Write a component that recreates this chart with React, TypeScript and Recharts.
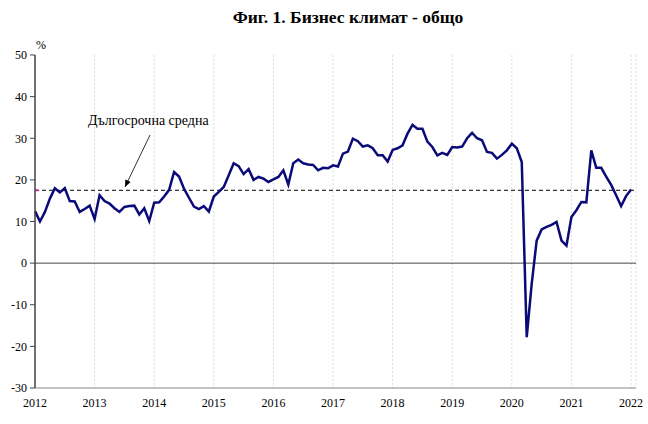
import {
  CartesianGrid,
  Line,
  LineChart,
  ReferenceLine,
  XAxis,
  YAxis,
} from "recharts";

// monthly values, Jan 2012 .. Jan 2022
const START_YEAR = 2012;
const climate = [
  12.5, 10, 12.3, 15.5, 18, 17, 18, 14.9, 14.8, 12.3, 13, 13.8,
  10.6, 16.3, 14.9, 14.3, 13.2, 12.3, 13.5, 13.7, 13.8, 11.7, 13.2, 10.1,
  14.5, 14.6, 16, 17.6, 21.9, 20.8, 17.9, 15.7, 13.6, 13, 13.7, 12.4,
  16, 17.1, 18.3, 21.1, 24, 23.3, 21.4, 22.6, 20, 20.7, 20.3, 19.5,
  20.1, 20.7, 22.3, 18.9, 24, 24.9, 24, 23.7, 23.6, 22.3, 22.9, 22.8,
  23.5, 23.2, 26.3, 26.8, 29.9, 29.3, 28, 28.3, 27.6, 25.9, 25.9, 24.4,
  27.2, 27.6, 28.3, 31.1, 33.2, 32.3, 32.3, 29.2, 27.9, 25.9, 26.5, 26,
  27.9, 27.8, 28, 30, 31.3, 30, 29.5, 26.7, 26.5, 25.1, 26, 27.1,
  28.7, 27.6, 24.3, -17.8, -5, 5.4, 8.1, 8.7, 9.2, 9.9, 5.4, 4.2,
  11.1, 12.7, 14.7, 14.6, 27.1, 22.9, 22.9, 20.8, 18.8, 16.3, 13.7, 16.1,
  17.7,
];
const longTermAvg = 17.5;
const yTicks = [-30, -20, -10, 0, 10, 20, 30, 40, 50];
const xTicks = [0, 12, 24, 36, 48, 60, 72, 84, 96, 108, 120];

const data = climate.map((v, i) => ({ m: i, v }));

const FONT = '"Liberation Serif", "Times New Roman", serif';

export default function App() {
  return (
    <div style={{ position: "absolute", left: 0, top: 0, width: 648, height: 424, background: "#fff", fontFamily: FONT }}>
      <LineChart width={648} height={424} data={data} margin={{ top: 55, right: 12, left: 0, bottom: 6 }}>
        <CartesianGrid horizontal={false} strokeDasharray="2 2" stroke="#dcdcdc" />
        <XAxis
          type="number"
          dataKey="m"
          domain={[0, 121]}
          ticks={xTicks}
          tickFormatter={(v) => String(START_YEAR + v / 12)}
          tickLine={false}
          tickMargin={4}
          axisLine={{ stroke: "#888" }}
          tick={{ fontSize: 12, fill: "#000", fontFamily: FONT }}
          height={30}
        />
        <YAxis
          yAxisId="l"
          domain={[-30, 50]}
          ticks={yTicks}
          width={35}
          tickSize={5}
          tickMargin={3}
          axisLine={{ stroke: "#444", strokeWidth: 1.5 }}
          tickLine={{ stroke: "#444" }}
          tick={{ fontSize: 12, fill: "#000", fontFamily: FONT }}
          interval={0}
        />
        <YAxis yAxisId="r" orientation="right" width={0} tick={false} tickLine={false} axisLine={{ stroke: "#999" }} />
        <ReferenceLine yAxisId="l" y={0} stroke="#444" strokeWidth={1} />
        <ReferenceLine yAxisId="l" y={longTermAvg} stroke="#000" strokeDasharray="4 3" strokeWidth={1} />
        <ReferenceLine
          yAxisId="l"
          segment={[{ x: 0, y: longTermAvg }, { x: 0.6, y: longTermAvg }]}
          stroke="#e020c0"
          strokeWidth={2}
        />
        <Line
          yAxisId="l"
          type="linear"
          dataKey="v"
          stroke="#0a0a78"
          strokeWidth={2.5}
          dot={false}
          isAnimationActive={false}
        />
      </LineChart>
      <svg width={648} height={424} style={{ position: "absolute", left: 0, top: 0, pointerEvents: "none" }}>
        <defs>
          <marker id="arr" markerWidth="8" markerHeight="8" refX="7" refY="4" orient="auto" markerUnits="userSpaceOnUse">
            <path d="M0,1 L7,4 L0,7 z" fill="#000" />
          </marker>
        </defs>
        <text x={348} y={23} textAnchor="middle" fontSize={17.5} fontWeight="bold" fontFamily={FONT} fill="#000">
          Фиг. 1. Бизнес климат - общо
        </text>
        <text x={36} y={49} fontSize={12} fontFamily={FONT} fill="#000">%</text>
        <text x={88} y={125} fontSize={14} fontFamily={FONT} fill="#000">Дългосрочна средна</text>
        <line x1={150} y1={135} x2={125} y2={187} stroke="#333" strokeWidth={1} markerEnd="url(#arr)" />
      </svg>
    </div>
  );
}
